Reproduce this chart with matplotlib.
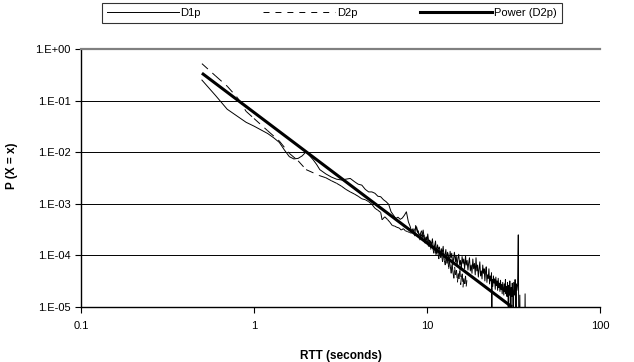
import matplotlib
matplotlib.use("Agg")
import matplotlib.pyplot as plt
from matplotlib.collections import LineCollection
from matplotlib.lines import Line2D

plt.rcParams['font.family'] = ['Liberation Sans', 'DejaVu Sans']
plt.rcParams['lines.scale_dashes'] = False

# D1p: RTT (s) and probability (1e-6 = off the bottom)
d1p_x = [0.5, 0.6, 0.7, 0.8, 0.9, 1.0, 1.1, 1.2, 1.3, 1.4, 1.5, 1.6, 1.7, 1.8,
         1.9, 2.0, 2.1, 2.2, 2.3, 2.4, 2.6, 2.8, 3.0, 3.2, 3.4, 3.6, 3.8, 4.0,
         4.2, 4.4, 4.6, 4.8, 5.0, 5.2, 5.4, 5.6, 5.8, 6.0, 6.2, 6.4, 6.6, 6.8,
         7.0, 7.2, 7.4, 7.6, 7.8,
         8.0, 8.15, 8.3, 8.5, 8.6, 8.8, 8.9, 9.1, 9.2, 9.35, 9.5, 9.7, 9.85,
         10.0, 10.1, 10.3, 10.45, 10.6, 10.75, 10.9, 11.05, 11.2, 11.35, 11.5,
         11.65, 11.8, 11.95, 12.1, 12.25, 12.4, 12.55, 12.7, 12.85, 13.0,
         13.15, 13.3, 13.45, 13.6, 13.75, 13.9, 14.1, 14.25, 14.4, 14.6,
         14.75, 14.9, 15.1, 15.25, 15.45, 15.6, 15.8, 15.95, 16.15, 16.3,
         16.5, 16.7, 16.85, 17.05, 17.25, 17.4, 17.6, 17.8, 18.0, 18.2, 18.4,
         18.6, 18.8, 19.0, 19.2, 19.4, 19.6, 19.8, 20.0, 20.2, 20.4, 20.6,
         20.8, 21.0, 21.2, 21.4, 21.6, 21.8, 22.0, 22.2, 22.4, 22.6, 22.8,
         23.0, 23.2, 23.4, 23.6, 23.7, 23.8, 24.0, 24.2, 24.4, 24.6, 24.8,
         25.0, 25.2, 25.4, 25.6, 25.8, 26.0, 26.2, 26.4, 26.6, 26.8, 27.0,
         27.2, 27.4, 27.6, 27.8, 28.0, 28.2, 28.4, 28.6, 28.8, 29.0, 29.2,
         29.4, 29.5, 29.7, 29.9, 30.1, 30.3, 30.5, 30.7, 30.9, 31.1, 31.3,
         31.5, 31.7, 31.9, 32.1, 32.3, 32.5, 32.7, 32.9, 33.1, 33.4, 33.7,
         34.0, 34.4, 34.7, 36.6, 36.9, 37.2]
d1p_y = [0.25, 0.125, 0.068, 0.05, 0.038, 0.032, 0.027, 0.023, 0.019, 0.0155,
         0.011, 0.0082, 0.0074, 0.0076, 0.0085, 0.0102, 0.0085, 0.0071, 0.0058,
         0.0046, 0.0038, 0.0033, 0.0030, 0.0029, 0.0030, 0.0031, 0.0027,
         0.0024, 0.0023, 0.0019, 0.0017, 0.0017, 0.0016, 0.0014, 0.00137,
         0.0012, 0.0011, 0.00098, 0.0007, 0.0006, 0.00052, 0.00055, 0.0005,
         0.00053, 0.0006, 0.0007, 0.00045,
         3.6e-4, 2.9e-4, 3.3e-4, 2.4e-4, 3.8e-4, 2.8e-4, 3.0e-4, 2.0e-4,
         2.6e-4, 2.3e-4, 3.1e-4, 1.8e-4, 2.2e-4, 1.9e-4, 2.6e-4, 1.5e-4,
         1.9e-4, 1.6e-4, 2.1e-4, 1.3e-4, 1.5e-4, 1.9e-4, 1.1e-4, 1.6e-4,
         1.3e-4, 1.45e-4, 9.5e-5, 1.35e-4, 1.1e-4, 1.5e-4, 9e-5, 1.0e-4,
         1.3e-4, 8e-5, 1.15e-4, 1.0e-4, 7e-5, 1.2e-4, 9e-5, 1.1e-4, 6.5e-5,
         8.5e-5, 1.15e-4, 7.5e-5, 1.0e-4, 6.2e-5, 9e-5, 1.05e-4, 6.5e-5,
         8e-5, 5.6e-5, 9.5e-5, 7e-5, 8.5e-5, 5.5e-5, 1.0e-4, 6.5e-5, 8e-5,
         5.2e-5, 7e-5, 9e-5, 5e-5, 6.5e-5, 4.5e-5, 8.5e-5, 5.5e-5, 7e-5,
         4.2e-5, 9e-5, 5e-5, 6.5e-5, 3.8e-5, 5.5e-5, 7.5e-5, 4e-5, 5e-5,
         3.5e-5, 6.5e-5, 4.5e-5, 5.5e-5, 3.2e-5, 4.8e-5, 6e-5, 3e-5, 4.2e-5,
         3.6e-5, 5.5e-5, 2.8e-5, 4e-5, 3.2e-5, 4.6e-5, 1e-6, 3.4e-5, 2.5e-5,
         4e-5, 2.9e-5, 3.5e-5, 2.2e-5, 3.8e-5, 2.6e-5, 3.2e-5, 2.1e-5, 3.6e-5,
         2.4e-5, 2.9e-5, 2.0e-5, 3.3e-5, 2.2e-5, 2.7e-5, 1.8e-5, 3.0e-5,
         2.3e-5, 1.7e-5, 2.8e-5, 2.0e-5, 3.4e-5, 1.8e-5, 2.5e-5, 1.6e-5,
         3.0e-5, 2.0e-5, 1e-6, 2.6e-5, 1.7e-5, 3.2e-5, 2.0e-5, 1e-6, 2.4e-5,
         1.6e-5, 2.9e-5, 1.9e-5, 1e-6, 3.0e-5, 2.2e-5, 1.7e-5, 3.4e-5, 2.0e-5,
         1e-6, 2.8e-5, 2.1e-5, 2.7e-5, 2.5e-4, 1e-6, 1.7e-5, 1e-6, 1e-6,
         1.8e-5, 1e-6]

# D2p
d2p_x = [0.5, 0.6, 0.7, 0.8, 0.9, 1.0, 1.2, 1.4, 1.6, 1.8, 2.0, 2.4, 2.6, 2.8,
         3.0, 3.2, 3.4, 3.6, 3.8, 4.0, 4.2, 4.4, 4.6, 4.8, 5.0, 5.2, 5.4, 5.5,
         5.7, 5.9, 6.1, 6.3, 6.5, 6.7, 6.9, 7.1, 7.3, 7.5, 7.7, 7.9, 8.1, 8.3,
         8.5, 8.7, 8.9, 9.1,
         9.3, 9.45, 9.6, 9.75, 9.9, 10.05, 10.2, 10.35, 10.5, 10.65, 10.8,
         10.95, 11.1, 11.25, 11.4, 11.55, 11.7, 11.85, 12.0, 12.15, 12.3,
         12.45, 12.6, 12.75, 12.9, 13.05, 13.2, 13.35, 13.5, 13.65, 13.8,
         13.95, 14.1, 14.3, 14.45, 14.6, 14.8, 15.0, 15.15, 15.3, 15.5, 15.65,
         15.8, 16.0, 16.15, 16.3, 16.5, 16.7, 16.85, 17.0]
d2p_y = [0.52, 0.30, 0.19, 0.115, 0.062, 0.045, 0.026, 0.0165, 0.0095, 0.0068,
         0.0046, 0.0035, 0.0032, 0.0028, 0.0025, 0.0022, 0.0019, 0.0017,
         0.00155, 0.0014, 0.00125, 0.0012, 0.0011, 0.00098, 0.00082, 0.00075,
         0.00068, 0.00049, 0.00056, 0.0005, 0.00044, 0.00038, 0.00037,
         0.00035, 0.00034, 0.00031, 0.00033, 0.0003, 0.00029, 0.00028,
         0.00027, 0.00028, 0.00032, 0.00036, 0.00027, 0.00025,
         3.0e-4, 2.2e-4, 2.5e-4, 1.7e-4, 2.3e-4, 1.9e-4, 1.5e-4, 2.0e-4,
         1.3e-4, 1.7e-4, 1.4e-4, 1.1e-4, 1.55e-4, 1.0e-4, 1.3e-4, 1.15e-4,
         8.5e-5, 1.25e-4, 9e-5, 1.05e-4, 7.5e-5, 1.1e-4, 8e-5, 6.5e-5, 9.5e-5,
         7e-5, 8.5e-5, 5.5e-5, 7.5e-5, 6e-5, 4.5e-5, 7e-5, 5e-5, 3.6e-5,
         6e-5, 4.2e-5, 5.2e-5, 3e-5, 4.5e-5, 3.5e-5, 5.5e-5, 2.7e-5, 3.8e-5,
         4.4e-5, 2.4e-5, 3.6e-5, 2.8e-5, 4e-5, 2.5e-5, 3.3e-5]

# Power (D2p) trendline, end points
power_x = [0.5, 31.0]
power_y = [0.34, 1.0e-5]

x_ticks = [0.1, 1, 10, 100]
x_tick_labels = ["0.1", "1", "10", "100"]
y_ticks = [1e-5, 1e-4, 1e-3, 1e-2, 1e-1, 1]
y_tick_labels = ["1.E-05", "1.E-04", "1.E-03", "1.E-02", "1.E-01", "1.E+00"]


def main():
  fig = plt.figure(figsize=(6.34, 3.62), dpi=100)
  ax = fig.add_axes([81 / 634, 1 - 307 / 362, 519 / 634, 258 / 362])
  ax.set_xscale('log')
  ax.set_yscale('log')
  ax.set_xlim(0.1, 100)
  ax.set_ylim(1e-5, 1)

  ax.plot(d1p_x, d1p_y, color='black', lw=0.7)

  # excel restarts the dash pattern on every segment, so draw them one by one
  segs = [[(d2p_x[i], d2p_y[i]), (d2p_x[i + 1], d2p_y[i + 1])]
          for i in range(len(d2p_x) - 1)]
  lc = LineCollection(segs, colors='black', linewidths=0.7,
                      linestyles=[(0, (5.8, 4.3))])
  ax.add_collection(lc)

  ax.plot(power_x, power_y, color='black', lw=2.2, solid_capstyle='butt')

  ax.set_xticks(x_ticks)
  ax.set_xticklabels(x_tick_labels)
  ax.set_yticks(y_ticks)
  ax.set_yticklabels(y_tick_labels)
  ax.minorticks_off()
  ax.tick_params(axis='both', labelsize=8, direction='out', length=4,
                 width=0.8, color='black')
  ax.tick_params(axis='x', pad=6)
  ax.tick_params(axis='y', pad=3.5)

  ax.grid(axis='y', color='black', lw=0.7)
  ax.set_axisbelow(True)
  ax.spines['right'].set_visible(False)
  ax.spines['top'].set_color('#808080')
  ax.spines['top'].set_linewidth(1.6)
  ax.spines['left'].set_linewidth(1.0)
  ax.spines['bottom'].set_linewidth(1.0)

  ax.set_xlabel("RTT (seconds)", fontsize=8.5, fontweight='bold')
  ax.xaxis.set_label_coords(0.5, -0.165)
  ax.set_ylabel("P (X = x)", fontsize=8.5, fontweight='bold')
  ax.yaxis.set_label_coords(-0.121, 0.547)

  handles = [Line2D([], [], color='black', lw=0.7),
             Line2D([], [], color='black', lw=0.7, linestyle=(0, (4.3, 4.3))),
             Line2D([], [], color='black', lw=2.2)]
  leg = fig.legend(handles, ["D1p", "D2p", "Power (D2p)"], ncol=3,
                   loc='upper center', bbox_to_anchor=(0.523, 1 - 3 / 362),
                   fontsize=8, handlelength=6.5, handletextpad=0.15,
                   columnspacing=5.6, frameon=True, fancybox=False,
                   borderpad=0.45, borderaxespad=0)
  leg.get_frame().set_edgecolor('black')
  leg.get_frame().set_linewidth(0.8)

  fig.savefig("out.png", dpi=100)


if __name__ == '__main__':
  main()
